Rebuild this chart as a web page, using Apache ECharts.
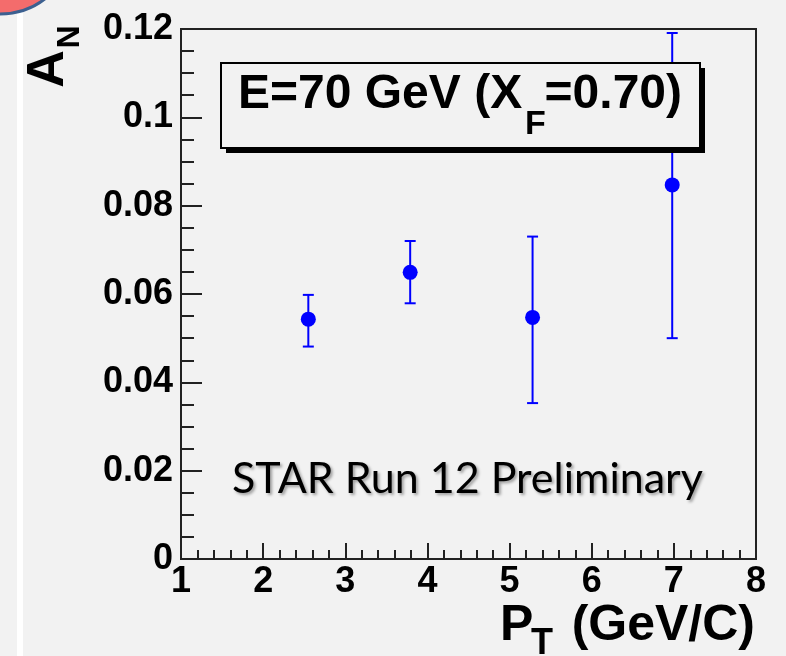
<!DOCTYPE html>
<html>
<head>
<meta charset="utf-8">
<script src="https://cdn.jsdelivr.net/npm/echarts@6/dist/echarts.min.js"></script>
<style>
html,body{margin:0;padding:0;background:#f2f2f2;}
#chart{width:786px;height:656px;}
</style>
</head>
<body>
<div id="chart"></div>
<script>
// ---- data ----
const ptValues = [2.55, 3.79, 5.28, 6.98];
const anValues = [0.0543, 0.0649, 0.0547, 0.0847];
const errLow = [0.0481, 0.0579, 0.0353, 0.0500];
const errHigh = [0.0598, 0.0720, 0.0730, 0.1191];
const xTickLabels = ['1', '2', '3', '4', '5', '6', '7', '8'];
const yTickLabels = ['0', '0.02', '0.04', '0.06', '0.08', '0.1', '0.12'];
const boxText = ['E=70 GeV (X', 'F', '=0.70)'];
const xTitle = ['P', 'T', '(GeV/C)'];
const yTitle = ['A', 'N'];
const noteText = 'STAR Run 12 Preliminary';

const points = ptValues.map((x, i) => [x, anValues[i]]);
const errData = ptValues.map((x, i) => [x, anValues[i], errLow[i], errHigh[i]]);

// fit the note text width
const cv = document.createElement('canvas').getContext('2d');
cv.font = '100px Lato';
const noteSize = Math.round(100 * 471 / cv.measureText(noteText).width);

const chart = echarts.init(document.getElementById('chart'), null, {renderer: 'canvas'});
const bold = 'Liberation Sans';
// text placed by its baseline: middle-aligned text has baseline ~0.31em below y
function btext(txt, x, base, fs, align, fam, extra) {
  const k = fam === 'Lato' ? 0.322 : 0.31;
  return Object.assign({
    type: 'text', z: 102, x: x, y: base - k * fs,
    style: Object.assign({
      text: txt, fontFamily: fam || bold, fontWeight: fam === 'Lato' ? 'normal' : 'bold',
      fontSize: fs, fill: '#000', align: align || 'left', verticalAlign: 'middle'
    }, extra || {})
  });
}
chart.setOption({
  backgroundColor: '#f2f2f2',
  animation: false,
  grid: {left: 181, right: 30, top: 29, bottom: 97, show: true, borderColor: '#222', borderWidth: 2, backgroundColor: 'transparent'},
  xAxis: {
    type: 'value', min: 1, max: 8, interval: 1,
    axisLine: {show: true, lineStyle: {color: '#222', width: 2}},
    axisTick: {show: true, inside: true, length: 16, lineStyle: {color: '#222', width: 2}},
    minorTick: {show: true, splitNumber: 5, length: 9, lineStyle: {color: '#222', width: 2}},
    splitLine: {show: false},
    axisLabel: {
      show: true, showMinLabel: true, showMaxLabel: true, margin: 5,
      fontFamily: bold, fontWeight: 'bold', fontSize: 36, color: '#000',
      formatter: v => xTickLabels[Math.round(v) - 1]
    }
  },
  yAxis: {
    type: 'value', min: 0, max: 0.12, interval: 0.02,
    axisLine: {show: true, lineStyle: {color: '#222', width: 2}},
    axisTick: {show: true, inside: true, length: 21, lineStyle: {color: '#222', width: 2}},
    minorTick: {show: true, splitNumber: 4, length: 13, lineStyle: {color: '#222', width: 2}},
    splitLine: {show: false},
    axisLabel: {
      show: true, showMinLabel: true, showMaxLabel: true, margin: 8,
      fontFamily: bold, fontWeight: 'bold', fontSize: 36, color: '#000',
      formatter: v => yTickLabels[Math.round(v / 0.02)]
    }
  },
  series: [
    {
      type: 'custom',
      data: errData,
      z: 3,
      renderItem: function (params, api) {
        const x = api.value(0);
        const pHi = api.coord([x, api.value(3)]);
        const pLo = api.coord([x, api.value(2)]);
        const w = 5.5;
        const st = {stroke: '#0000ff', lineWidth: 2};
        return {
          type: 'group',
          children: [
            {type: 'line', shape: {x1: pHi[0], y1: pHi[1], x2: pLo[0], y2: pLo[1]}, style: st},
            {type: 'line', shape: {x1: pHi[0] - w, y1: pHi[1], x2: pHi[0] + w, y2: pHi[1]}, style: st},
            {type: 'line', shape: {x1: pLo[0] - w, y1: pLo[1], x2: pLo[0] + w, y2: pLo[1]}, style: st}
          ]
        };
      }
    },
    {
      type: 'scatter',
      data: points,
      z: 4,
      symbol: 'circle',
      symbolSize: 15,
      itemStyle: {color: '#0000ff', opacity: 1}
    }
  ],
  graphic: [
    {type: 'rect', z: 0, silent: true, shape: {x: 17, y: 0, width: 6, height: 656}, style: {fill: '#ffffff'}},
    {type: 'circle', z: 1, silent: true, shape: {cx: 0, cy: -60, r: 74}, style: {fill: '#f46c6c', stroke: '#3c6090', lineWidth: 3}},
    // stats box
    {type: 'rect', z: 100, shape: {x: 226, y: 68, width: 479, height: 85}, style: {fill: '#000'}},
    {type: 'rect', z: 101, shape: {x: 221, y: 63, width: 479, height: 85}, style: {fill: '#f2f2f2', stroke: '#000', lineWidth: 2}},
    btext(boxText[0], 238, 110, 48),
    btext(boxText[1], 525, 135, 34),
    btext(boxText[2], 682, 110, 48, 'right'),
    // note
    btext(noteText, 232, 493, noteSize, 'left', 'Lato', {textShadowColor: 'rgba(0,0,0,0.35)', textShadowBlur: 3, textShadowOffsetX: 2, textShadowOffsetY: 2}),
    // x title
    btext(xTitle[0], 500, 642, 50),
    btext(xTitle[1], 531, 655, 36),
    btext(xTitle[2], 755, 642, 50, 'right'),
    // y title (rotated)
    {type: 'text', z: 102, x: 49, y: 69, rotation: Math.PI / 2, style: {text: yTitle[0], fontFamily: bold, fontWeight: 'bold', fontSize: 52, fill: '#000', align: 'center', verticalAlign: 'middle'}},
    {type: 'text', z: 102, x: 70, y: 37, rotation: Math.PI / 2, style: {text: yTitle[1], fontFamily: bold, fontWeight: 'bold', fontSize: 32, fill: '#000', align: 'center', verticalAlign: 'middle'}}
  ]
});
</script>
</body>
</html>
